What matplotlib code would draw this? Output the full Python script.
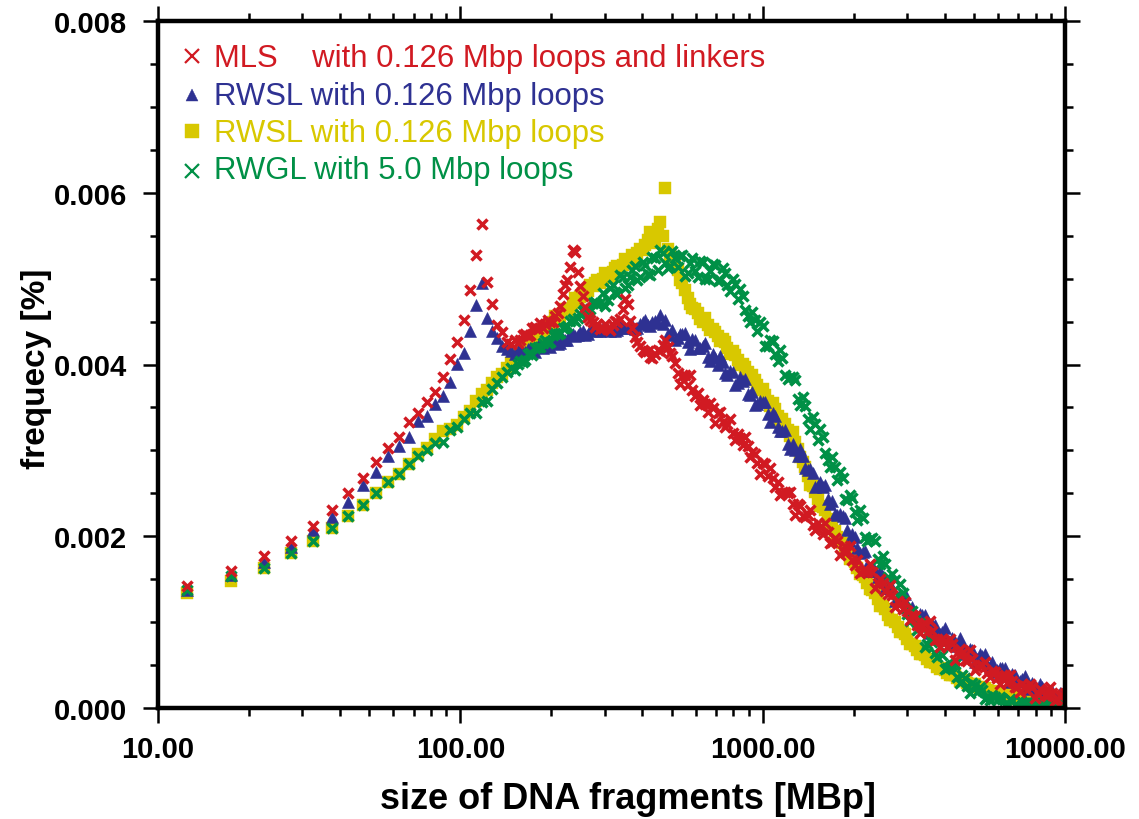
import numpy as np
import matplotlib
matplotlib.use("Agg")
import matplotlib.pyplot as plt
from matplotlib.ticker import FixedLocator, LogLocator, NullFormatter, FuncFormatter

plt.rcParams['font.family'] = ['Liberation Sans', 'DejaVu Sans']

# ---- fragment sizes [Mbp] ----
# individually resolved bins at the small-size end
size_low = [12.5, 17.5, 22.5, 27.5, 32.5, 37.5, 42.5, 47.5, 52.5, 57.5,
            62.5, 67.5, 72.5, 77.5, 82.5, 87.5, 92.5, 97.5, 102.5, 107.5,
            112.5, 117.5, 122.5, 127.5, 132.5, 137.5, 142.5, 147.5]
# sampled bins across the dense part of the distribution
size_dense = [152, 158, 164, 170, 177, 184, 191, 198, 206, 214,
              222, 231, 240, 249, 259, 269, 279, 290, 301, 313,
              325, 338, 351, 364, 378, 393, 408, 424, 441, 458,
              476, 494, 513, 533, 554, 575, 598, 621, 645, 670,
              696, 723, 751, 780, 810, 842, 874, 908, 943, 980,
              1018, 1058, 1099, 1141, 1186, 1232, 1279, 1329, 1381, 1434,
              1490, 1548, 1608, 1670, 1735, 1802, 1872, 1945, 2020, 2099,
              2180, 2265, 2353, 2444, 2539, 2637, 2740, 2846, 2956, 3071,
              3190, 3314, 3443, 3576, 3715, 3859, 4009, 4164, 4326, 4494,
              4668, 4849, 5037, 5233, 5436, 5647, 5866, 6093, 6330, 6575,
              6830, 7095, 7371, 7657, 7954, 8263, 8584, 8917, 9263, 9622,
              9995]
# further bins lying between the ones above
size_mid = [155, 161, 167, 173, 180, 188, 195, 202, 210, 218,
            226, 235, 245, 254, 264, 274, 284, 296, 307, 319,
            331, 344, 358, 371, 385, 401, 416, 432, 449, 467,
            485, 503, 523, 543, 565, 586, 609, 633, 657, 683,
            709, 737, 765, 795, 826, 858, 891, 925, 961, 999,
            1038, 1078, 1120, 1163, 1209, 1256, 1304, 1355, 1408, 1462,
            1519, 1578, 1639, 1702, 1768, 1837, 1908, 1982, 2059, 2139,
            2222, 2308, 2398, 2491, 2588, 2688, 2793, 2901, 3013, 3130,
            3251, 3378, 3509, 3645, 3786, 3933, 4086, 4244, 4409, 4580,
            4758, 4942, 5134, 5333, 5540, 5755, 5979, 6210, 6452, 6701,
            6961, 7231, 7513, 7804, 8107, 8422, 8749, 9088, 9441, 9807]

# ---- frequencies, in units of 1e-3 % ----
mls_low = [1.42, 1.60, 1.77, 1.95, 2.12, 2.31, 2.50, 2.68, 2.86, 3.03,
           3.15, 3.33, 3.44, 3.56, 3.68, 3.85, 4.06, 4.26, 4.52, 4.87,
           5.28, 5.64, 4.96, 4.70, 4.46, 4.38, 4.26, 4.24]
mls_dense = [4.29, 4.28, 4.35, 4.34, 4.44, 4.48, 4.47, 4.49, 4.57, 4.68,
             4.93, 5.13, 5.31, 4.91, 4.67, 4.52, 4.44, 4.41, 4.47, 4.40,
             4.51, 4.53, 4.76, 4.51, 4.32, 4.22, 4.14, 4.09, 4.12, 4.16,
             4.28, 4.13, 4.02, 3.77, 3.88, 3.88, 3.63, 3.53, 3.54, 3.55,
             3.32, 3.45, 3.27, 3.36, 3.12, 3.14, 3.15, 2.92, 2.96, 2.73,
             2.84, 2.80, 2.57, 2.48, 2.52, 2.51, 2.25, 2.35, 2.22, 2.31,
             2.07, 2.11, 2.15, 1.92, 1.98, 1.78, 1.89, 1.89, 1.67, 1.57,
             1.62, 1.68, 1.40, 1.50, 1.36, 1.43, 1.18, 1.21, 1.24, 1.02,
             1.07, 0.87, 0.99, 1.01, 0.79, 0.71, 0.78, 0.80, 0.56, 0.69,
             0.56, 0.67, 0.44, 0.50, 0.53, 0.36, 0.42, 0.28, 0.38, 0.39,
             0.24, 0.19, 0.26, 0.28, 0.12, 0.22, 0.15, 0.24, 0.08, 0.14,
             0.18]
mls_mid = [4.25, 4.34, 4.33, 4.42, 4.41, 4.43, 4.52, 4.50, 4.60, 4.82,
           4.98, 5.33, 5.08, 4.80, 4.55, 4.49, 4.47, 4.43, 4.42, 4.46,
           4.49, 4.65, 4.70, 4.42, 4.26, 4.17, 4.16, 4.08, 4.17, 4.23,
           4.20, 4.10, 3.90, 3.87, 3.76, 3.70, 3.67, 3.59, 3.45, 3.49,
           3.43, 3.33, 3.31, 3.20, 3.19, 3.06, 3.05, 2.98, 2.85, 2.85,
           2.70, 2.68, 2.63, 2.50, 2.50, 2.37, 2.38, 2.24, 2.25, 2.13,
           2.16, 2.03, 2.05, 1.93, 1.94, 1.83, 1.83, 1.72, 1.72, 1.60,
           1.58, 1.58, 1.46, 1.45, 1.33, 1.32, 1.25, 1.15, 1.13, 1.08,
           0.97, 0.97, 0.88, 0.90, 0.80, 0.80, 0.71, 0.74, 0.64, 0.64,
           0.55, 0.57, 0.48, 0.50, 0.41, 0.43, 0.35, 0.37, 0.29, 0.32,
           0.25, 0.28, 0.21, 0.24, 0.17, 0.20, 0.14, 0.18, 0.11, 0.15]

rwsl_low = [1.37, 1.55, 1.70, 1.88, 2.07, 2.22, 2.40, 2.60, 2.75, 2.93,
            3.05, 3.16, 3.34, 3.40, 3.54, 3.63, 3.80, 4.01, 4.13, 4.39,
            4.69, 4.95, 4.54, 4.39, 4.31, 4.22, 4.18, 4.16]
rwsl_dense = [4.12, 4.17, 4.15, 4.19, 4.15, 4.21, 4.25, 4.20, 4.26, 4.25,
              4.28, 4.35, 4.33, 4.38, 4.34, 4.40, 4.44, 4.39, 4.42, 4.39,
              4.39, 4.46, 4.43, 4.47, 4.41, 4.47, 4.52, 4.45, 4.51, 4.58,
              4.52, 4.34, 4.29, 4.36, 4.37, 4.18, 4.29, 4.19, 4.25, 4.04,
              4.07, 4.10, 3.90, 3.93, 3.76, 3.85, 3.83, 3.64, 3.53, 3.57,
              3.56, 3.33, 3.40, 3.22, 3.24, 3.02, 3.01, 3.02, 2.79, 2.78,
              2.57, 2.63, 2.60, 2.38, 2.26, 2.26, 2.21, 1.95, 1.99, 1.81,
              1.83, 1.60, 1.59, 1.60, 1.40, 1.43, 1.25, 1.33, 1.33, 1.14,
              1.05, 1.09, 1.08, 0.87, 0.97, 0.86, 0.93, 0.74, 0.77, 0.81,
              0.63, 0.69, 0.53, 0.63, 0.63, 0.48, 0.42, 0.47, 0.47, 0.30,
              0.38, 0.31, 0.37, 0.22, 0.26, 0.28, 0.15, 0.20, 0.10, 0.18,
              0.14]
rwsl_mid = [4.16, 4.13, 4.18, 4.16, 4.21, 4.19, 4.23, 4.25, 4.24, 4.30,
            4.29, 4.35, 4.34, 4.39, 4.36, 4.42, 4.39, 4.43, 4.40, 4.44,
            4.40, 4.45, 4.42, 4.46, 4.43, 4.49, 4.46, 4.50, 4.48, 4.47,
            4.36, 4.40, 4.31, 4.36, 4.26, 4.30, 4.19, 4.22, 4.09, 4.12,
            3.99, 4.03, 3.88, 3.91, 3.78, 3.81, 3.66, 3.68, 3.54, 3.56,
            3.42, 3.43, 3.27, 3.23, 3.08, 3.07, 2.94, 2.93, 2.77, 2.74,
            2.59, 2.57, 2.43, 2.41, 2.25, 2.23, 2.07, 2.03, 1.86, 1.82,
            1.67, 1.65, 1.52, 1.52, 1.40, 1.40, 1.28, 1.29, 1.18, 1.18,
            1.07, 1.08, 0.97, 0.98, 0.88, 0.89, 0.79, 0.81, 0.72, 0.74,
            0.65, 0.67, 0.57, 0.60, 0.50, 0.53, 0.44, 0.47, 0.37, 0.40,
            0.31, 0.34, 0.26, 0.29, 0.21, 0.24, 0.17, 0.20, 0.13, 0.16]

rwsl2_low = [1.34, 1.48, 1.63, 1.81, 1.95, 2.10, 2.24, 2.36, 2.50, 2.63,
             2.73, 2.84, 2.96, 3.03, 3.13, 3.22, 3.25, 3.29, 3.39, 3.46,
             3.57, 3.66, 3.70, 3.79, 3.85, 3.89, 3.96, 4.02]
rwsl2_dense = [4.10, 4.11, 4.24, 4.23, 4.25, 4.37, 4.41, 4.44, 4.56, 4.53,
               4.65, 4.65, 4.77, 4.79, 4.81, 4.93, 4.95, 4.95, 5.06, 5.03,
               5.12, 5.12, 5.23, 5.22, 5.24, 5.35, 5.39, 5.54, 5.42, 5.66,
               6.05, 5.27, 5.24, 4.98, 4.87, 4.70, 4.65, 4.53, 4.54, 4.40,
               4.38, 4.27, 4.26, 4.12, 4.11, 3.99, 3.97, 3.85, 3.82, 3.70,
               3.65, 3.52, 3.48, 3.33, 3.31, 3.17, 3.10, 2.92, 2.81, 2.60,
               2.52, 2.35, 2.30, 2.12, 2.06, 1.93, 1.89, 1.74, 1.70, 1.56,
               1.52, 1.38, 1.34, 1.19, 1.15, 1.02, 1.00, 0.88, 0.86, 0.75,
               0.72, 0.63, 0.62, 0.53, 0.52, 0.45, 0.44, 0.38, 0.38, 0.32,
               0.32, 0.27, 0.28, 0.23, 0.23, 0.19, 0.19, 0.16, 0.16, 0.13,
               0.13, 0.10, 0.11, 0.08, 0.09, 0.06, 0.07, 0.05, 0.06, 0.04,
               0.04]
rwsl2_mid = [4.15, 4.17, 4.20, 4.27, 4.31, 4.36, 4.45, 4.50, 4.52, 4.60,
             4.62, 4.72, 4.75, 4.83, 4.86, 4.91, 4.98, 5.00, 5.02, 5.08,
             5.15, 5.16, 5.20, 5.27, 5.30, 5.33, 5.45, 5.48, 5.58, 5.50,
             5.34, 5.20, 5.10, 4.95, 4.78, 4.66, 4.60, 4.50, 4.46, 4.41,
             4.33, 4.30, 4.19, 4.16, 4.05, 4.01, 3.91, 3.88, 3.76, 3.72,
             3.58, 3.55, 3.40, 3.37, 3.24, 3.21, 3.02, 2.87, 2.70, 2.58,
             2.43, 2.34, 2.20, 2.11, 1.99, 1.92, 1.81, 1.73, 1.63, 1.55,
             1.45, 1.37, 1.27, 1.19, 1.08, 1.02, 0.94, 0.88, 0.80, 0.75,
             0.67, 0.63, 0.57, 0.54, 0.48, 0.46, 0.41, 0.39, 0.35, 0.33,
             0.29, 0.28, 0.25, 0.24, 0.21, 0.20, 0.17, 0.17, 0.14, 0.14,
             0.11, 0.11, 0.09, 0.09, 0.07, 0.07, 0.06, 0.06, 0.05, 0.05]

rwgl_low = [1.37, 1.54, 1.63, 1.81, 1.95, 2.10, 2.24, 2.36, 2.50, 2.63,
            2.73, 2.84, 2.94, 3.00, 3.09, 3.10, 3.24, 3.27, 3.36, 3.44,
            3.44, 3.56, 3.57, 3.72, 3.79, 3.85, 3.91, 3.96]
rwgl_dense = [3.94, 4.04, 4.05, 4.13, 4.19, 4.20, 4.28, 4.26, 4.37, 4.37,
              4.42, 4.51, 4.51, 4.59, 4.65, 4.65, 4.73, 4.72, 4.68, 4.89,
              4.85, 5.04, 4.89, 5.02, 5.15, 5.02, 5.16, 5.04, 5.24, 5.33,
              5.18, 5.15, 5.24, 5.26, 5.03, 5.18, 5.09, 5.21, 5.00, 5.09,
              5.16, 4.98, 5.06, 4.86, 4.94, 4.88, 4.63, 4.49, 4.52, 4.50,
              4.21, 4.29, 4.12, 4.17, 3.88, 3.85, 3.82, 3.53, 3.52, 3.25,
              3.31, 3.25, 2.97, 2.81, 2.81, 2.75, 2.43, 2.48, 2.28, 2.30,
              1.99, 1.97, 1.95, 1.68, 1.68, 1.43, 1.49, 1.44, 1.16, 1.01,
              1.02, 0.99, 0.71, 0.80, 0.64, 0.71, 0.45, 0.48, 0.51, 0.29,
              0.35, 0.18, 0.27, 0.25, 0.11, 0.09, 0.13, 0.13, 0.04, 0.10,
              0.04, 0.09, 0.06, 0.02, 0.07, 0.03, 0.06, 0.02, 0.05, 0.02,
              0.04]
rwgl_mid = [4.01, 4.03, 4.12, 4.11, 4.20, 4.25, 4.25, 4.34, 4.35, 4.43,
            4.45, 4.53, 4.54, 4.62, 4.61, 4.72, 4.70, 4.83, 4.75, 4.92,
            4.82, 5.02, 4.93, 5.10, 4.98, 5.19, 5.05, 5.25, 5.10, 5.30,
            5.12, 5.32, 5.13, 5.27, 5.06, 5.24, 5.02, 5.19, 4.99, 5.17,
            4.97, 5.12, 4.92, 5.00, 4.76, 4.80, 4.56, 4.61, 4.39, 4.45,
            4.21, 4.27, 4.04, 4.08, 3.83, 3.86, 3.60, 3.62, 3.36, 3.39,
            3.12, 3.15, 2.89, 2.92, 2.66, 2.68, 2.42, 2.45, 2.19, 2.21,
            1.95, 1.98, 1.74, 1.77, 1.53, 1.56, 1.32, 1.34, 1.10, 1.13,
            0.91, 0.93, 0.74, 0.77, 0.59, 0.62, 0.47, 0.50, 0.36, 0.39,
            0.26, 0.29, 0.19, 0.21, 0.13, 0.15, 0.09, 0.11, 0.06, 0.08,
            0.04, 0.07, 0.03, 0.06, 0.02, 0.05, 0.02, 0.04, 0.02, 0.04]

labels = ["MLS    with 0.126 Mbp loops and linkers",
          "RWSL with 0.126 Mbp loops",
          "RWSL with 0.126 Mbp loops",
          "RWGL with 5.0 Mbp loops"]
y_ticks = [0.000, 0.002, 0.004, 0.006, 0.008]
x_ticks = [10, 100, 1000, 10000]

RED = '#D11A22'
BLUE = '#2E3192'
YELLOW = '#D8C800'
GREEN = '#009046'

unit = 1e-3
sizes = np.array(size_low + size_dense + size_mid, dtype=float)
mls = np.array(mls_low + mls_dense + mls_mid) * unit
rwsl = np.array(rwsl_low + rwsl_dense + rwsl_mid) * unit
rwsl2 = np.array(rwsl2_low + rwsl2_dense + rwsl2_mid) * unit
rwgl = np.array(rwgl_low + rwgl_dense + rwgl_mid) * unit
for series in (mls, rwsl, rwsl2, rwgl):
    assert len(series) == len(sizes)

fig = plt.figure(figsize=(11.39, 8.20), dpi=100)
ax = fig.add_axes([158 / 1139, 1 - 709 / 820, 907 / 1139, 687 / 820])

ax.plot(sizes, rwsl2, ls='none', marker='s', ms=8.4, mfc=YELLOW, mec=YELLOW,
        mew=0.3, zorder=2)
ax.plot(sizes, rwsl, ls='none', marker='^', ms=8.4, mfc=BLUE, mec=BLUE,
        mew=0.4, zorder=3)
ax.plot(sizes, rwgl, ls='none', marker='x', ms=7.8, mec=GREEN, mew=2.5,
        zorder=4)
ax.plot(sizes, mls, ls='none', marker='x', ms=7.8, mec=RED, mew=2.5,
        zorder=5)

ax.set_xscale('log')
ax.set_xlim(10, 10000)
ax.set_ylim(0, 0.008)

ax.xaxis.set_major_locator(FixedLocator(x_ticks))
ax.xaxis.set_minor_locator(LogLocator(base=10, subs=np.arange(2, 10)))
ax.xaxis.set_minor_formatter(NullFormatter())
ax.xaxis.set_major_formatter(FuncFormatter(lambda v, p: f"{v:.2f}"))
ax.yaxis.set_major_locator(FixedLocator(y_ticks))
ax.yaxis.set_minor_locator(FixedLocator(np.arange(0, 0.00801, 0.0005)))
ax.yaxis.set_major_formatter(FuncFormatter(lambda v, p: f"{v:.3f}"))

for side in ax.spines.values():
    side.set_linewidth(3.2)
    side.set_zorder(10)

ax.tick_params(axis='both', which='both', direction='out', top=True,
               right=True, width=1.8, labelsize=21)
ax.tick_params(axis='both', which='major', length=10.5)
ax.tick_params(axis='both', which='minor', length=6)
ax.tick_params(axis='x', which='major', pad=9)
ax.tick_params(axis='y', which='major', pad=12)
for lab in ax.get_xticklabels() + ax.get_yticklabels():
    lab.set_fontweight('bold')

fig.text(628 / 1139, 1 - 800 / 820, "size of DNA fragments [MBp]",
         ha='center', va='center', fontsize=26, fontweight='bold')
fig.text(37 / 1139, 1 - 369 / 820, "frequecy [%]", rotation=90,
         ha='center', va='center', fontsize=24, fontweight='bold')

# legend drawn row by row in axes coordinates
mark_x = 0.0370
text_x = 0.0612
mark_y = [0.9486, 0.8923, 0.8399, 0.7821]
base_y = [0.9345, 0.8792, 0.8253, 0.7715]
styles = [dict(marker='x', ms=9.5, mec=RED, mew=1.6, color=RED),
          dict(marker='^', ms=9, mfc=BLUE, mec=BLUE, mew=0.3, color=BLUE),
          dict(marker='s', ms=10.5, mfc=YELLOW, mec=YELLOW, mew=0.3, color=YELLOW),
          dict(marker='x', ms=9.5, mec=GREEN, mew=1.6, color=GREEN)]
for lab, st, my, by in zip(labels, styles, mark_y, base_y):
    col = st.pop('color')
    ax.plot([mark_x], [my], ls='none', transform=ax.transAxes,
            clip_on=False, zorder=11, **st)
    ax.text(text_x, by, lab, transform=ax.transAxes, color=col,
            fontsize=22.4, ha='left', va='baseline', zorder=11)

fig.savefig("out.png", dpi=100)
